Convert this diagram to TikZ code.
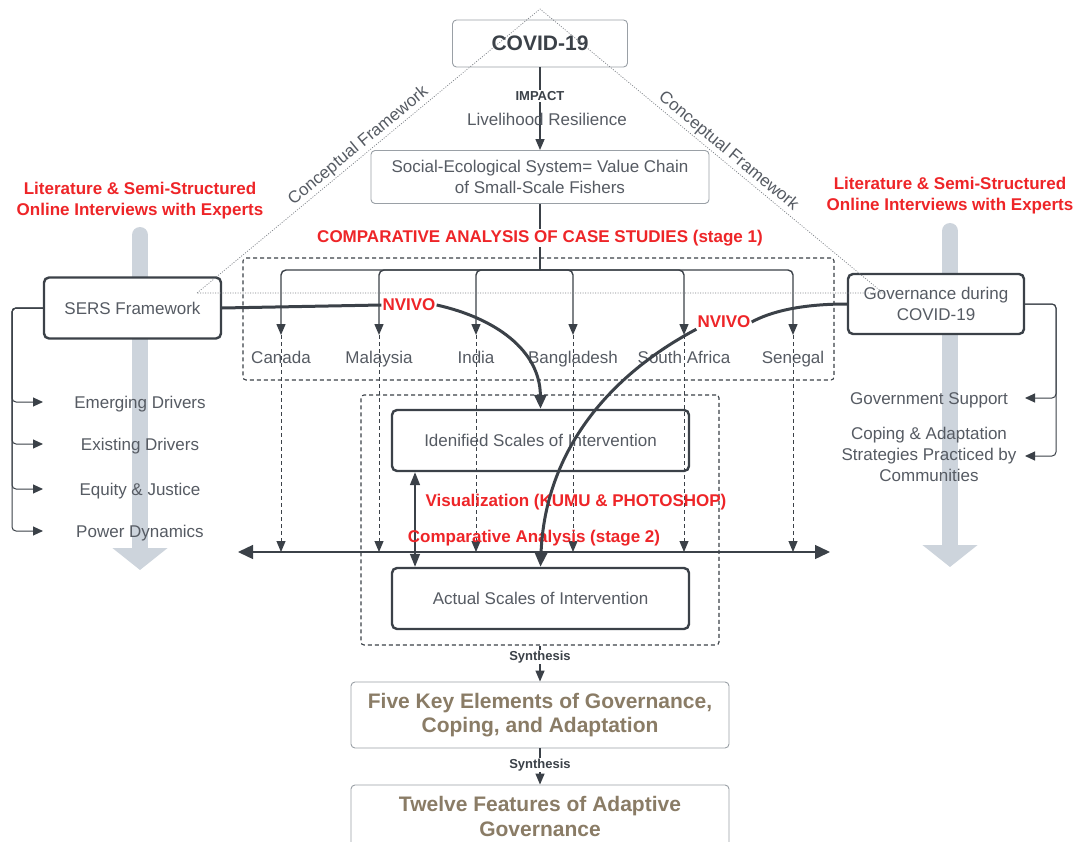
\documentclass[tikz,border=0pt]{standalone}
\usepackage{fontspec}
\setmainfont{Liberation Sans}
\usetikzlibrary{arrows.meta}
\definecolor{ink}{HTML}{3B4148}
\definecolor{txt}{HTML}{565B63}
\definecolor{redlab}{HTML}{EE2528}
\definecolor{keytext}{HTML}{8A7C66}
\definecolor{railgray}{HTML}{CDD4DC}
\definecolor{framegray}{HTML}{9AA0A6}
\definecolor{dotgray}{HTML}{7A7F85}

\tikzset{
  base/.style={font=\fontsize{17}{20.5}\selectfont, text=txt},
  plain/.style={base, inner sep=0pt, align=center},
  oneline/.style={base, inner sep=0pt, anchor=base},
  thinbox/.style={draw=framegray, line width=0.9pt, rounded corners=4pt, fill=white, inner sep=0pt, align=center, base},
  thickbox/.style={draw=ink, line width=2.4pt, rounded corners=5pt, inner sep=0pt, align=center, base},
  dashbox/.style={draw=ink, line width=1.1pt, dash pattern=on 4pt off 3pt, rounded corners=3pt, inner sep=0pt},
  redlabel/.style={font=\bfseries\fontsize{17}{21}\selectfont, text=redlab, inner sep=1pt, align=center},
  synth/.style={fill=white, inner sep=1pt, font=\bfseries\fontsize{13}{15}\selectfont, text=ink},
  conn/.style={draw=ink, line width=1.4pt},
  thinconn/.style={draw=ink, line width=1pt},
  dashconn/.style={draw=ink, line width=1pt, dash pattern=on 4pt off 3pt},
  heavy/.style={draw=ink, line width=3pt},
  tipS/.style={-{Triangle[length=11pt,width=9pt]}},
  tipM/.style={-{Triangle[length=10pt,width=9pt]}},
  tipL/.style={-{Triangle[length=14pt,width=12pt]}},
  frameline/.style={draw=dotgray, line width=0.7pt, dash pattern=on 1pt off 1.5pt},
  framelabel/.style={font=\fontsize{17}{20}\selectfont, text=txt, inner sep=2pt},
}

\begin{document}
\begin{tikzpicture}[x=1pt,y=-1pt]
\useasboundingbox (0,0) rectangle (1081,842);
\fill[white] (0,0) rectangle (1081,842);
\clip (0,0) rectangle (1081,842);

% broad grey guide arrows behind both side columns
\draw[railgray, line width=16pt, line cap=round, -{Triangle[length=22pt,width=54pt]}] (140,235) -- (140,570);
\draw[railgray, line width=16pt, line cap=round, -{Triangle[length=22pt,width=54pt]}] (950,231) -- (950,567);

% side titles
\node[redlabel] (litL) at (140,201) {Literature \& Semi-Structured\\Online Interviews with Experts};
\node[redlabel] (litR) at (950,196) {Literature \& Semi-Structured\\Online Interviews with Experts};

% top chain
\node[thinbox, minimum width=175pt, minimum height=47pt, font=\bfseries\fontsize{21}{24}\selectfont, text=ink] (covid) at (540,43.5) {COVID-19};
\node[thinbox, minimum width=338pt, minimum height=53pt] (ses) at (540,177) {Social-Ecological System= Value Chain\\of Small-Scale Fishers};
\draw[conn, tipS] (covid.south) -- (covid.south |- ses.north);
\node[synth] (impact) at (540,96) {IMPACT};
\node[plain] (livres) at (547,119) {Livelihood Resilience};

% case studies
\node[dashbox, minimum width=591pt, minimum height=122pt] (cases) at (538.5,319) {};
\coordinate (hub) at (540,270);
\coordinate (hL) at (238,552);
\coordinate (hR) at (830,552);
\draw[conn] (ses.south) -- (hub);
\node[redlabel, fill=white] (stage1) at (540,238) {COMPARATIVE ANALYSIS OF CASE STUDIES (stage 1)};

\node[dashbox, minimum width=358pt, minimum height=250pt] (scales) at (540,520) {};
\node[thickbox, minimum width=297pt, minimum height=61pt] (ident) at (540.5,440.5) {Idenified Scales of Intervention};
\node[thickbox, minimum width=297pt, minimum height=61pt] (actual) at (540.5,598.5) {Actual Scales of Intervention};

\foreach \x/\n/\lab in {281/c1/Canada, 379/c2/Malaysia, 476/c3/India, 573/c4/Bangladesh, 684/c5/South Africa, 793/c6/Senegal} {
  \node[oneline] (\n) at (\x,363) {\lab};
  \coordinate (\n-tip) at (\x,335);
  \draw[conn, tipS, rounded corners=5pt] (hub) -| (\n-tip);
  \draw[dashconn, tipS] (\n-tip) -- (\n-tip |- hL);
}
\draw[conn, {Triangle[length=15pt,width=14pt]}-{Triangle[length=15pt,width=14pt]}] (hL) -- (hR);

\draw[conn, {Triangle[length=13pt,width=10pt]}-{Triangle[length=13pt,width=10pt]}] ([xshift=-125.5pt]ident.south) -- ([xshift=-125.5pt]actual.north);
\node[redlabel] (vis) at (576,502) {Visualization (KUMU \& PHOTOSHOP)};
\node[redlabel] (stage2) at (534,538) {Comparative Analysis (stage 2)};

% framework boxes
\node[thickbox, fill=white, minimum width=177pt, minimum height=61pt] (sers) at (132.5,308) {SERS Framework};
\node[thickbox, fill=white, minimum width=176pt, minimum height=60pt] (gov) at (936,304) {Governance during\\COVID-19};

% NVIVO coding flows
\node[redlabel] (nv1) at (409,305) {NVIVO};
\node[redlabel] (nv2) at (724,322) {NVIVO};
\draw[heavy] (sers.east) -- (nv1.west);
\draw[heavy, tipL] (nv1.east) .. controls (495,318) and (540,350) .. (ident.north);
\draw[heavy] (gov.west) .. controls (800,304) and (770,312) .. (nv2.east);
\draw[heavy, tipL] (nv2.south west) .. controls (610,375) and (545,450) .. (actual.north);

% SERS components
\foreach \y/\n/\lab in {402/d1/Emerging Drivers, 444/d2/Existing Drivers, 489/d3/Equity \& Justice, 531/d4/Power Dynamics} {
  \node[oneline] (\n) at (140,\y+6) {\lab};
  \coordinate (\n-in) at (43,\y);
  \draw[thinconn, tipM, rounded corners=4pt] (sers.west) -| ([xshift=-31pt]\n-in) -- (\n-in);
}

% governance components
\node[oneline] (g1) at (929,404) {Government Support};
\node[plain, font=\fontsize{17}{21}\selectfont] (g2) at (929,454) {Coping \& Adaptation\\Strategies Practiced by\\Communities};
\coordinate (g1-in) at (1025,398);
\coordinate (g2-in) at (1025,456);
\draw[thinconn, tipM, rounded corners=4pt] (gov.east) -| ([xshift=31pt]g1-in) -- (g1-in);
\draw[thinconn, tipM, rounded corners=4pt] (gov.east) -| ([xshift=31pt]g2-in) -- (g2-in);

% conceptual framework triangle
\draw[frameline] (197,293) -- node[framelabel, pos=0.49, sloped, above] {Conceptual Framework} (540,9)
  -- node[framelabel, pos=0.53, sloped, above] {Conceptual Framework} (883,293) -- cycle;

% synthesis
\node[thinbox, minimum width=378pt, minimum height=66pt, font=\bfseries\fontsize{21}{24}\selectfont, text=keytext] (five) at (540,715) {Five Key Elements of Governance,\\Coping, and Adaptation};
\node[thinbox, minimum width=378pt, minimum height=62pt, font=\bfseries\fontsize{21}{25}\selectfont, text=keytext] (twelve) at (540,816) {Twelve Features of Adaptive\\Governance};
\draw[conn, tipS] (scales.south) -- node[synth, pos=0.32] {Synthesis} (five.north);
\draw[conn, tipS] (five.south) -- node[synth, pos=0.46] {Synthesis} (twelve.north);
\end{tikzpicture}
\end{document}
